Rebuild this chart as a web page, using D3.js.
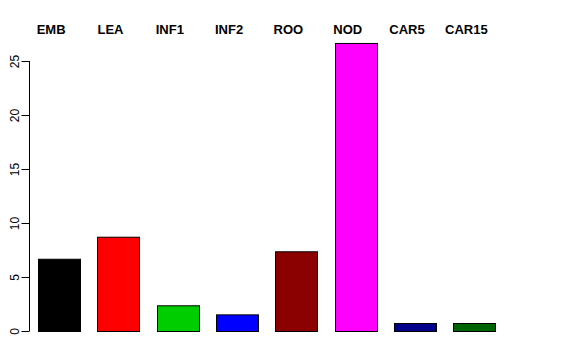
<!doctype html>
<html lang="en">
<head>
	<meta charset="UTF-8">
	<title>barplot | d3</title>
	<style>
		body { margin: 0; background: #fff; }
		.label { font-family: "Liberation Sans", Arial, sans-serif; font-size: 13px; font-weight: bold; fill: #000; }
		.tick text { font-family: "Liberation Sans", Arial, sans-serif; font-size: 12px; fill: #000; }
	</style>
</head>
<body>
	<script src="https://cdn.jsdelivr.net/npm/d3@7"></script>
	<script>
		var categories = ['EMB', 'LEA', 'INF1', 'INF2', 'ROO', 'NOD', 'CAR5', 'CAR15'],
			values = [6.69, 8.73, 2.38, 1.54, 7.38, 26.67, 0.74, 0.74],
			colours = ['#000000', '#ff0000', '#00cd00', '#0000ff', '#8b0000', '#ff00ff', '#00008b', '#006400'],
			yTicks = [0, 5, 10, 15, 20, 25],
			w = 576,
			h = 360;

		var svg = d3.select('body')
			.append('svg')
			.attr('width', w)
			.attr('height', h);

		// scales: bars 42px wide, step ~59px like R's space = 0.4
		var xScale = d3.scaleBand()
			.domain(categories)
			.range([29.5, 504])
			.paddingInner(0.4 / 1.4)
			.paddingOuter(0.2 / 1.4);

		var yScale = d3.scaleLinear()
			.domain([0, 25])
			.range([331, 61]);

		// y axis
		var yAxis = d3.axisLeft(yScale)
			.tickValues(yTicks)
			.tickSize(8)
			.tickPadding(3);

		var gy = svg.append('g')
			.attr('transform', 'translate(29.5,0)')
			.call(yAxis);

		gy.select('.domain')
			.attr('d', 'M0,' + yScale(0) + 'V' + yScale(25))
			.attr('stroke', '#000');

		gy.selectAll('.tick line').attr('stroke', '#000');

		gy.selectAll('.tick text')
			.attr('x', null)
			.attr('dy', null)
			.attr('text-anchor', 'middle')
			.attr('transform', 'translate(-10.5,0) rotate(-90)');

		// bars
		svg.selectAll('rect.bar')
			.data(values)
			.enter()
			.append('rect')
			.attr('class', 'bar')
			.attr('x', function(d, i) { return Math.round(xScale(categories[i])) + 0.5; })
			.attr('y', function(d) { return yScale(d) + 0.5; })
			.attr('width', Math.round(xScale.bandwidth()))
			.attr('height', function(d) { return yScale(0) - yScale(d); })
			.attr('fill', function(d, i) { return colours[i]; })
			.attr('stroke', '#000')
			.attr('stroke-width', 1);

		// labels on top
		svg.selectAll('text.label')
			.data(categories)
			.enter()
			.append('text')
			.attr('class', 'label')
			.attr('x', function(d) { return xScale(d) + xScale.bandwidth() / 2 - 8; })
			.attr('y', 34)
			.attr('text-anchor', 'middle')
			.text(function(d) { return d; });
	</script>
</body>
</html>
